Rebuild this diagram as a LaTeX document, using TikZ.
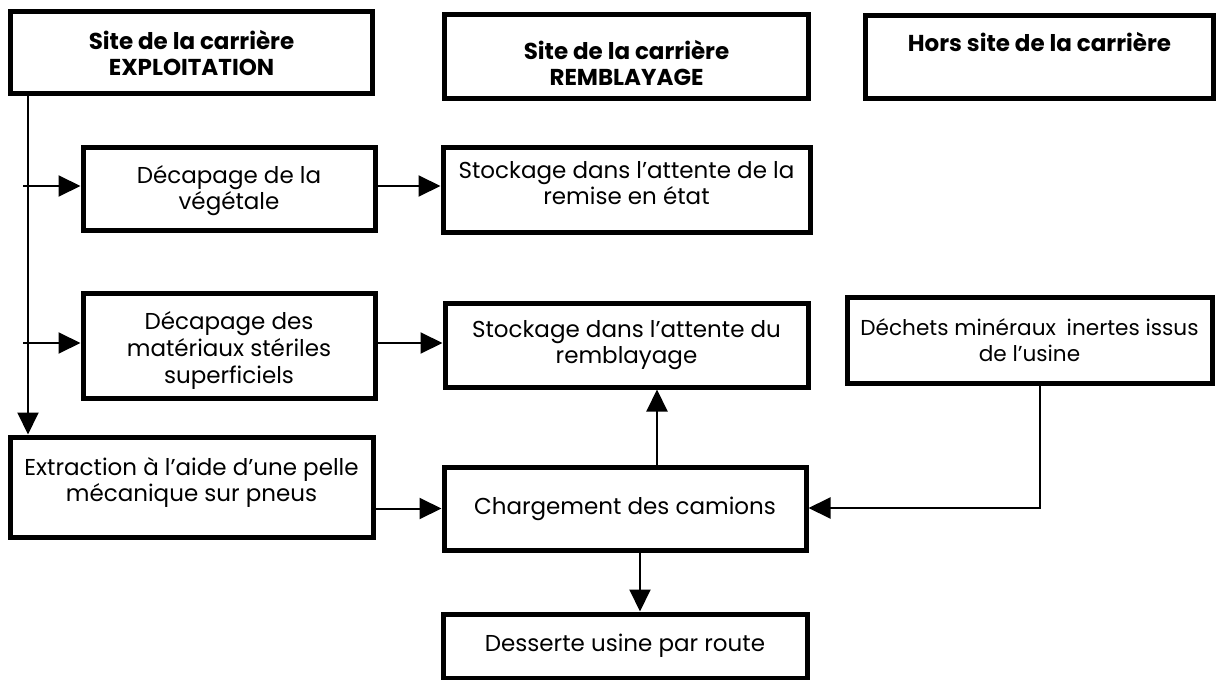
\documentclass[tikz,border=0pt]{standalone}
\usepackage{fontspec}
\setmainfont{Poppins}
\usetikzlibrary{arrows.meta}
\begin{document}
\begin{tikzpicture}[x=0.5pt,y=-0.5pt,
  box/.style={draw=black,line width=2.5pt,rectangle,align=center,inner sep=0pt,
    font=\fontsize{11.5}{13}\selectfont},
  hdr/.style={box,font=\fontsize{11.5}{13}\selectfont\bfseries},
  arr/.style={draw=black,line width=1pt,-{Triangle[length=11pt,width=10.5pt]}},
  ln/.style={draw=black,line width=1pt}]
\useasboundingbox (0,0) rectangle (1217,680);
% headers
\node[hdr,minimum width=181pt,minimum height=41pt] (H1) at (191.5,52.5) {Site de la carrière\\EXPLOITATION};
\node[hdr,minimum width=182pt,minimum height=42pt] (H2) at (626.5,56) {\rule{0pt}{17pt}Site de la carrière\\REMBLAYAGE};
\node[hdr,minimum width=174pt,minimum height=41.5pt] (H3) at (1039.5,56.5) {Hors site de la carrière\\[2pt]\mbox{}};
% column 1
\node[box,minimum width=146pt,minimum height=41.5pt] (D1) at (229,188.5) {\rule{0pt}{11pt}Décapage de la\\végétale};
\node[box,minimum width=146pt,minimum height=52.5pt] (D2) at (229,345.5) {\rule{0pt}{14pt}Décapage des\\[0.5pt]matériaux stériles\\[0.5pt]superficiels};
\node[box,minimum width=181.5pt,minimum height=50pt] (EX) at (191.5,487) {Extraction à l’aide d’une pelle\\mécanique sur pneus\\[-6pt]\mbox{}};
% column 2
\node[box,minimum width=183.5pt,minimum height=42.5pt] (S1) at (626.5,189.5) {Stockage dans l’attente de la\\remise en état\\[-6pt]\mbox{}};
\node[box,minimum width=181.5pt,minimum height=42pt] (S2) at (626.5,345) {Stockage dans l’attente du\\remblayage};
\node[box,minimum width=181pt,minimum height=41.5pt] (CH) at (625,508.5) {Chargement des camions};
\node[box,minimum width=182pt,minimum height=32pt] (DS) at (625,646) {Desserte usine par route};
% column 3
\node[box,minimum width=182.5pt,minimum height=43pt,font=\fontsize{10.8}{13}\selectfont] (DM) at (1029.5,340) {Déchets minéraux\hspace{0.5em}inertes issus\\de l’usine};
% connectors
\coordinate (v) at (28,0);
\coordinate (b1) at (23,186);
\coordinate (b2) at (23,343);
\coordinate (c1) at (657,0);
\coordinate (c2) at (640,0);
\coordinate (r) at (1040,508);
\draw[arr] (H1.south -| v) -- (EX.north -| v);
\draw[arr] (b1) -- (D1.west |- b1);
\draw[arr] (b2) -- (D2.west |- b2);
\draw[arr] (D1.east |- b1) -- (S1.west |- b1);
\draw[arr] (D2.east |- b2) -- (S2.west |- b2);
\draw[arr] (EX.east |- CH.west) -- (CH.west);
\draw[arr] (CH.north -| c1) -- (S2.south -| c1);
\draw[arr] (CH.south -| c2) -- (DS.north -| c2);
\draw[arr] (DM.south -| r) -- (r) -- (CH.east |- r);
\end{tikzpicture}
\end{document}
